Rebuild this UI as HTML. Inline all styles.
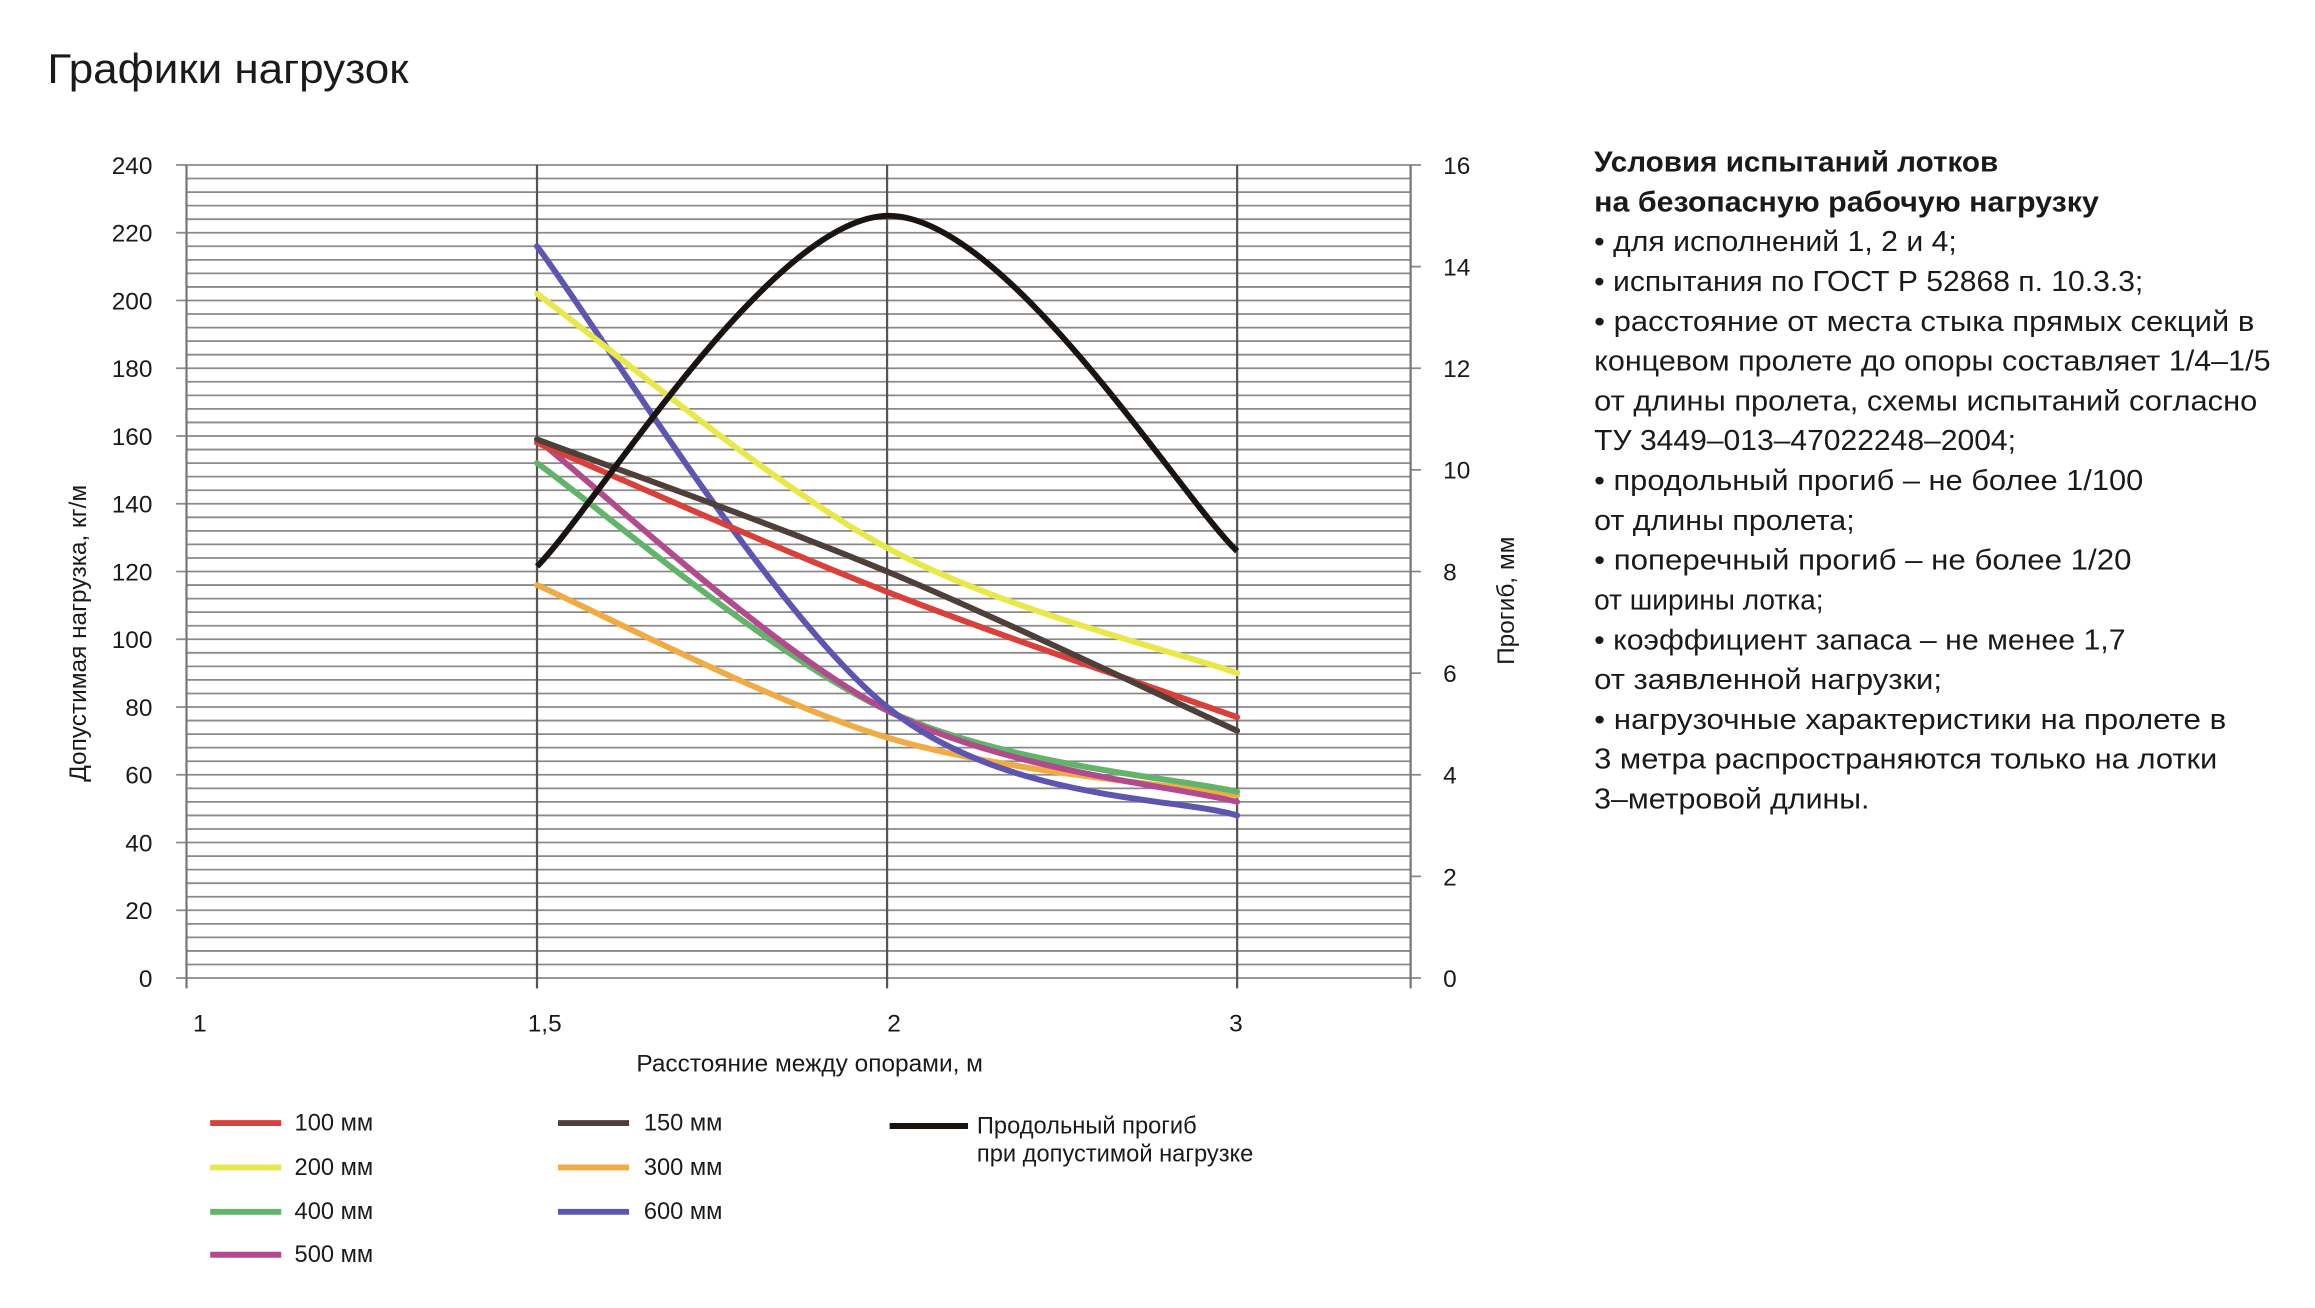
<!DOCTYPE html>
<html><head><meta charset="utf-8"><style>
html,body{margin:0;padding:0;background:#fff;width:2315px;height:1308px;overflow:hidden}
svg{display:block}
text{font-family:"Liberation Sans",sans-serif;fill:#1a1a1a}
</style></head><body>
<svg id="s" width="2315" height="1308" viewBox="0 0 1564 884" preserveAspectRatio="none" xmlns="http://www.w3.org/2000/svg">
<text x="32" y="56" font-size="28" textLength="244" lengthAdjust="spacingAndGlyphs">Графики нагрузок</text>
<g id="grid"></g>
<g id="series"></g>
<g font-size="16.5">
<text x="135" y="697" text-anchor="middle">1</text>
<text x="368" y="697" text-anchor="middle">1,5</text>
<text x="604" y="697" text-anchor="middle">2</text>
<text x="835" y="697" text-anchor="middle">3</text>
<text x="547" y="724" text-anchor="middle">Расстояние между опорами, м</text>
<text transform="translate(58,428) rotate(-90)" text-anchor="middle">Допустимая нагрузка, кг/м</text>
<text transform="translate(1023,406) rotate(-90)" text-anchor="middle">Прогиб, мм</text>
</g>
<g stroke-width="4" fill="none">
<line x1="142" y1="759" x2="190" y2="759" stroke="#d9403a"/>
<line x1="142" y1="789" x2="190" y2="789" stroke="#e8e84a"/>
<line x1="142" y1="819" x2="190" y2="819" stroke="#62b46a"/>
<line x1="142" y1="848" x2="190" y2="848" stroke="#b24a8e"/>
<line x1="377" y1="759" x2="425" y2="759" stroke="#4e3f38"/>
<line x1="377" y1="789" x2="425" y2="789" stroke="#f0ab45"/>
<line x1="377" y1="819" x2="425" y2="819" stroke="#5d55b0"/>
<line x1="601" y1="761" x2="654" y2="761" stroke="#1a1410"/>
</g>
<g font-size="16">
<text x="199" y="764">100 мм</text>
<text x="199" y="794">200 мм</text>
<text x="199" y="824">400 мм</text>
<text x="199" y="853">500 мм</text>
<text x="435" y="764">150 мм</text>
<text x="435" y="794">300 мм</text>
<text x="435" y="824">600 мм</text>
<text x="660" y="766">Продольный прогиб</text>
<text x="660" y="785">при допустимой нагрузке</text>
</g>
<g id="rt" font-size="19.5"></g>
</svg>
<script>
var NS="http://www.w3.org/2000/svg";
function el(p,t,a,txt){var e=document.createElementNS(NS,t);for(var k in a)e.setAttribute(k,a[k]);if(txt)e.textContent=txt;p.appendChild(e);return e;}
var g=document.getElementById('grid');
var y0=661,k=549.5/240;
function Y(v){return y0-v*k;}
for(var v=0;v<=240;v+=4){el(g,'line',{x1:126,x2:953,y1:Y(v),y2:Y(v),stroke:'#8a8a8a','stroke-width':1.2});}
for(var v=0;v<=240;v+=20){el(g,'line',{x1:119,x2:126,y1:Y(v),y2:Y(v),stroke:'#8a8a8a','stroke-width':1.2});
el(g,'text',{x:103,y:Y(v)+6,'text-anchor':'end','font-size':16.5},String(v));}
for(var p=0;p<=16;p+=2){var yy=y0-p*549.5/16;el(g,'line',{x1:953,x2:960,y1:yy,y2:yy,stroke:'#8a8a8a','stroke-width':1.2});
el(g,'text',{x:975,y:yy+6,'font-size':16.5},String(p));}
el(g,'line',{x1:126,x2:126,y1:Y(240),y2:668,stroke:'#777','stroke-width':1.5});
el(g,'line',{x1:953,x2:953,y1:Y(240),y2:668,stroke:'#777','stroke-width':1.5});
[362.8,599.3,835.8].forEach(function(x){el(g,'line',{x1:x,x2:x,y1:Y(240),y2:668,stroke:'#555','stroke-width':1.5});});
var X=[362.8,599.3,835.8];
function path(ys){var P=ys.map(function(y,i){return [X[i],y];});
var d='M'+P[0][0]+','+P[0][1];
for(var i=0;i<P.length-1;i++){var p0=P[i-1]||P[i],p1=P[i],p2=P[i+1],p3=P[i+2]||P[i+1];
var c1=[p1[0]+(p2[0]-p0[0])/6,p1[1]+(p2[1]-p0[1])/6],c2=[p2[0]-(p3[0]-p1[0])/6,p2[1]-(p3[1]-p1[1])/6];
d+=' C'+c1+' '+c2+' '+p2;}return d;}
var s=document.getElementById('series');
var data=[['#f0ab45',[116,71,54]],['#62b46a',[152,79,55]],['#b24a8e',[159,79,52]],['#5d55b0',[216,80,48]],['#d9403a',[158,114,77]],['#4e3f38',[159,120,73]],['#e8e84a',[202,127,90]]];
data.forEach(function(d){el(s,'path',{d:path(d[1].map(Y)),stroke:d[0],'stroke-width':4,fill:'none','stroke-linecap':'round'});});
var pk=549.5/16;
el(s,'path',{d:path([8.1,15,8.4].map(function(p){return y0-p*pk;})),stroke:'#1a1410','stroke-width':4,fill:'none'});
var lines=[['Условия испытаний лотков',1350,1],['на безопасную рабочую нагрузку',1418,1],['• для исполнений 1, 2 и 4;',1322],['• испытания по ГОСТ Р 52868 п. 10.3.3;',1448],['• расстояние от места стыка прямых секций в',1523],['концевом пролете до опоры составляет 1/4–1/5',1534],['от длины пролета, схемы испытаний согласно',1525],['ТУ 3449–013–47022248–2004;',1362],['• продольный прогиб – не более 1/100',1448],['от длины пролета;',1253],['• поперечный прогиб – не более 1/20',1440],['от ширины лотка;',1232],['• коэффициент запаса – не менее 1,7',1436],['от заявленной нагрузки;',1312],['• нагрузочные характеристики на пролете в',1504],['3 метра распространяются только на лотки',1498],['3–метровой длины.',1263]];
var rt=document.getElementById('rt');
lines.forEach(function(l,i){var a={x:1077,y:116+i*26.9,textLength:l[1]-1077,lengthAdjust:'spacingAndGlyphs'};if(l[2])a['font-weight']='bold';el(rt,'text',a,l[0]);});
</script>
</body></html>
